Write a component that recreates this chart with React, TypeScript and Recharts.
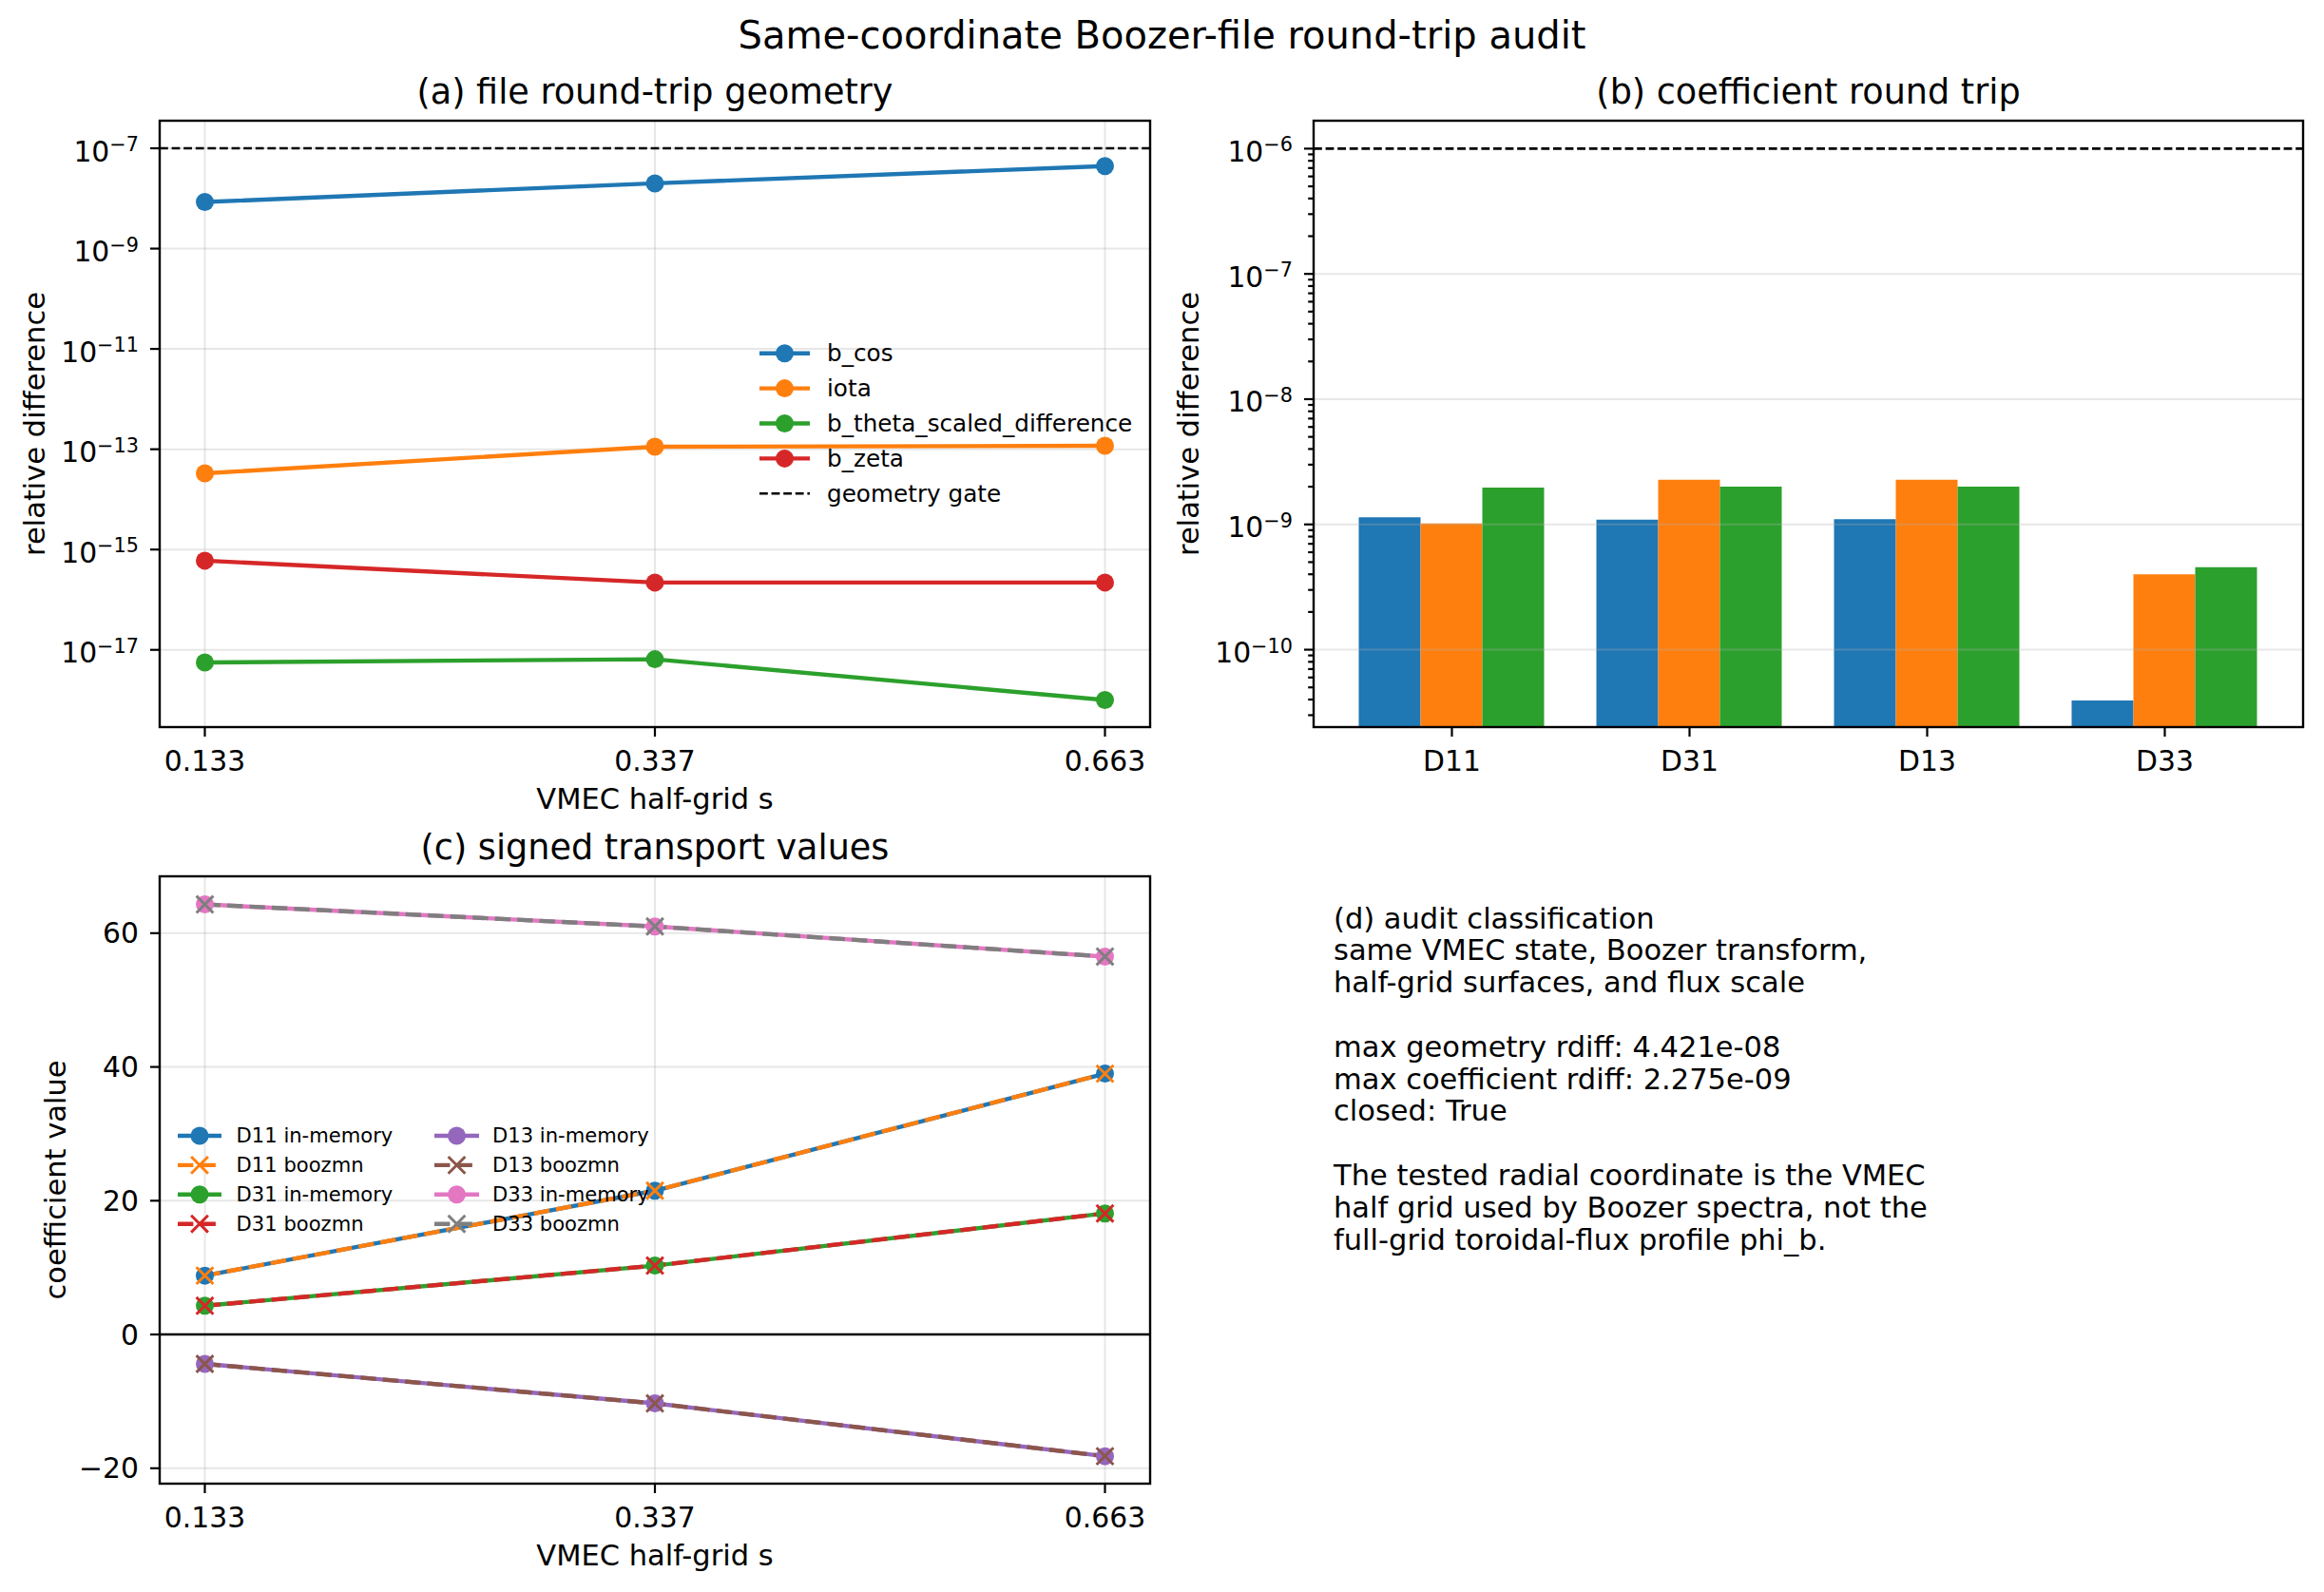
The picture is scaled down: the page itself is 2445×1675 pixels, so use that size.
import React from "react";
import {
  Bar,
  BarChart,
  CartesianGrid,
  Line,
  LineChart,
  ReferenceLine,
  XAxis,
  YAxis,
} from "recharts";

// ---- data ----
const surfaceLabels = ["0.133", "0.337", "0.663"];

const bCos = [8.5e-9, 2.0e-8, 4.421e-8];
const iota = [3.3e-14, 1.12e-13, 1.17e-13];
const bThetaScaled = [5.6e-18, 6.5e-18, 1.0e-18];
const bZeta = [6.0e-16, 2.2e-16, 2.2e-16];
const geometryGate = 1e-7;
const geometryDecades = [-17, -15, -13, -11, -9, -7];

const coefficientNames = ["D11", "D31", "D13", "D33"];
const rdiffInner = [1.14e-9, 1.09e-9, 1.1e-9, 3.93e-11];
const rdiffMiddle = [1.02e-9, 2.275e-9, 2.27e-9, 4.0e-10];
const rdiffOuter = [1.97e-9, 2.0e-9, 2.0e-9, 4.55e-10];
const coefficientGate = 1e-6;
const coefficientDecades = [-10, -9, -8, -7, -6];

const d11Memory = [8.8, 21.5, 39.0];
const d11Boozmn = [8.8, 21.5, 39.0];
const d31Memory = [4.3, 10.3, 18.1];
const d31Boozmn = [4.3, 10.3, 18.1];
const d13Memory = [-4.4, -10.3, -18.2];
const d13Boozmn = [-4.4, -10.3, -18.2];
const d33Memory = [64.3, 61.0, 56.5];
const d33Boozmn = [64.3, 61.0, 56.5];
const transportTicks = [-20, 0, 20, 40, 60];

const auditLines = [
  "(d) audit classification",
  "same VMEC state, Boozer transform,",
  "half-grid surfaces, and flux scale",
  "",
  "max geometry rdiff: 4.421e-08",
  "max coefficient rdiff: 2.275e-09",
  "closed: True",
  "",
  "The tested radial coordinate is the VMEC",
  "half grid used by Boozer spectra, not the",
  "full-grid toroidal-flux profile phi_b.",
];

// ---- look ----
const W = 2445;
const H = 1675;
const FONT = '"DejaVu Sans", Verdana, sans-serif';
const FS = 29.8; // tick labels
const FS_LABEL = 30.5; // axis labels and the text block
const FS_TITLE = 36.6;
const FS_SUPTITLE = 40;
const TICK = 10;
const TICK_MINOR = 5.8;
const PAD = 12;
const XPAD = 14;
const YW = 150;
const XH = 60;
const LW = 4.4;
const SPINE = 2.4;
const GRID = { stroke: "#b0b0b0", strokeOpacity: 0.3, strokeWidth: 2 };
const GATE_DASH = "8.8 3.8";
const BOOZ_DASH = "16.4 7.1";

const C10 = {
  blue: "#1f77b4",
  orange: "#ff7f0e",
  green: "#2ca02c",
  red: "#d62728",
  purple: "#9467bd",
  brown: "#8c564b",
  pink: "#e377c2",
  gray: "#7f7f7f",
};

const boxA = { left: 168, top: 127, right: 1210, bottom: 765 };
const boxB = { left: 1382, top: 127, right: 2423, bottom: 765 };
const boxC = { left: 168, top: 922, right: 1210, bottom: 1561 };

const marginFor = (b: typeof boxA) => ({
  top: b.top,
  left: b.left - YW,
  right: W - b.right,
  bottom: H - b.bottom - XH,
});

const geometrySeries = [
  { key: "bCos", name: "b_cos", color: C10.blue, values: bCos },
  { key: "iota", name: "iota", color: C10.orange, values: iota },
  { key: "bTheta", name: "b_theta_scaled_difference", color: C10.green, values: bThetaScaled },
  { key: "bZeta", name: "b_zeta", color: C10.red, values: bZeta },
];

const barSeries = [
  { key: "inner", color: C10.blue, values: rdiffInner },
  { key: "middle", color: C10.orange, values: rdiffMiddle },
  { key: "outer", color: C10.green, values: rdiffOuter },
];

const transportSeries = [
  { key: "d11m", name: "D11 in-memory", color: C10.blue, values: d11Memory, booz: false },
  { key: "d11b", name: "D11 boozmn", color: C10.orange, values: d11Boozmn, booz: true },
  { key: "d31m", name: "D31 in-memory", color: C10.green, values: d31Memory, booz: false },
  { key: "d31b", name: "D31 boozmn", color: C10.red, values: d31Boozmn, booz: true },
  { key: "d13m", name: "D13 in-memory", color: C10.purple, values: d13Memory, booz: false },
  { key: "d13b", name: "D13 boozmn", color: C10.brown, values: d13Boozmn, booz: true },
  { key: "d33m", name: "D33 in-memory", color: C10.pink, values: d33Memory, booz: false },
  { key: "d33b", name: "D33 boozmn", color: C10.gray, values: d33Boozmn, booz: true },
];

const geometryRows = surfaceLabels.map((s, i) => {
  const row: Record<string, any> = { s };
  geometrySeries.forEach((g) => (row[g.key] = g.values[i]));
  return row;
});

const barRows = coefficientNames.map((name, i) => {
  const row: Record<string, any> = { name };
  barSeries.forEach((b) => (row[b.key] = b.values[i]));
  return row;
});

const transportRows = surfaceLabels.map((s, i) => {
  const row: Record<string, any> = { s };
  transportSeries.forEach((t) => (row[t.key] = t.values[i]));
  return row;
});

const geometryDomain = [Math.pow(10, -18.54), Math.pow(10, -6.45)];
const coefficientDomain = [Math.pow(10, -10.618), Math.pow(10, -5.777)];

// log ticks with minor marks between decades
const coefficientTicks: number[] = [];
for (let e = -11; e <= -6; e++) {
  for (let k = 1; k <= 9; k++) {
    const v = k * Math.pow(10, e);
    if (v >= coefficientDomain[0] && v <= coefficientDomain[1]) coefficientTicks.push(v);
  }
}

// ---- tick renderers ----
const minus = (n: number) => (n < 0 ? "\u2212" + Math.abs(n) : String(n));

function XTick(props: any) {
  const { x, y, payload } = props;
  return (
    <text x={x} y={y + 21.6} textAnchor="middle" fontSize={FS} fontFamily={FONT} fill="#000">
      {payload.value}
    </text>
  );
}

function LogTick(props: any) {
  const { x, y, payload } = props;
  const lg = Math.log10(payload.value);
  const e = Math.round(lg);
  const major = Math.abs(lg - e) < 1e-6;
  const ax = x + PAD + TICK;
  return (
    <g>
      <line
        x1={ax - (major ? TICK : TICK_MINOR)}
        x2={ax}
        y1={y}
        y2={y}
        stroke="#000"
        strokeWidth={2.2}
      />
      {major && (
        <text x={x} y={y + 13.5} textAnchor="end" fontSize={FS} fontFamily={FONT} fill="#000">
          <tspan>10</tspan>
          <tspan dy={-10.5} fontSize={20.8}>
            {minus(e)}
          </tspan>
        </text>
      )}
    </g>
  );
}

function LinTick(props: any) {
  const { x, y, payload } = props;
  return (
    <text x={x} y={y + 10.6} textAnchor="end" fontSize={FS} fontFamily={FONT} fill="#000">
      {minus(payload.value)}
    </text>
  );
}

const crossPath = (cx: number, cy: number, h: number) =>
  `M${cx - h},${cy - h}L${cx + h},${cy + h}M${cx - h},${cy + h}L${cx + h},${cy - h}`;

const crossDot = (color: string) => (props: any) => {
  const { cx, cy, index } = props;
  return (
    <path key={`x-${index}`} d={crossPath(cx, cy, 8.9)} stroke={color} strokeWidth={3} fill="none" />
  );
};

const tickLineStyle = { stroke: "#000", strokeWidth: 2.2 };

// ---- legends & annotations ----
function GeometryLegend() {
  const x0 = 799;
  const x1 = 852;
  const mx = 825.5;
  const tx = 870;
  const items = [
    ...geometrySeries.map((g) => ({ label: g.name, color: g.color, gate: false })),
    { label: "geometry gate", color: "#000", gate: true },
  ];
  return (
    <g>
      {items.map((it, i) => {
        const y = 371.7 + i * 36.9;
        return (
          <g key={it.label}>
            <line
              x1={x0}
              x2={x1}
              y1={y}
              y2={y}
              stroke={it.color}
              strokeWidth={it.gate ? 2.6 : LW}
              strokeDasharray={it.gate ? GATE_DASH : undefined}
            />
            {!it.gate && <circle cx={mx} cy={y} r={9.5} fill={it.color} />}
            <text x={tx} y={y + 8.3} fontSize={24.7} fontFamily={FONT} fill="#000">
              {it.label}
            </text>
          </g>
        );
      })}
    </g>
  );
}

function TransportLegend() {
  const cols = [
    { x0: 187, x1: 233, mx: 210, tx: 248.6 },
    { x0: 457, x1: 504, mx: 480.5, tx: 518 },
  ];
  return (
    <g>
      {transportSeries.map((t, i) => {
        const c = cols[Math.floor(i / 4)];
        const y = 1195 + (i % 4) * 30.9;
        return (
          <g key={t.key}>
            <line
              x1={c.x0}
              x2={c.x1}
              y1={y}
              y2={y}
              stroke={t.color}
              strokeWidth={LW}
              strokeDasharray={t.booz ? BOOZ_DASH : undefined}
            />
            {t.booz ? (
              <path d={crossPath(c.mx, y, 8.9)} stroke={t.color} strokeWidth={3} fill="none" />
            ) : (
              <circle cx={c.mx} cy={y} r={9.5} fill={t.color} />
            )}
            <text x={c.tx} y={y + 7.2} fontSize={21.1} fontFamily={FONT} fill="#000">
              {t.name}
            </text>
          </g>
        );
      })}
    </g>
  );
}

function Frame({ b }: { b: typeof boxA }) {
  return (
    <rect
      x={b.left}
      y={b.top}
      width={b.right - b.left}
      height={b.bottom - b.top}
      fill="none"
      stroke="#000"
      strokeWidth={SPINE}
    />
  );
}

function Annotations() {
  const cxA = (boxA.left + boxA.right) / 2;
  const cxB = (boxB.left + boxB.right) / 2;
  const cyAB = (boxA.top + boxA.bottom) / 2;
  const cyC = (boxC.top + boxC.bottom) / 2;
  const title = { fontSize: FS_TITLE, fontFamily: FONT, fill: "#000", textAnchor: "middle" as const };
  const label = { fontSize: FS_LABEL, fontFamily: FONT, fill: "#000", textAnchor: "middle" as const };
  return (
    <svg
      width={W}
      height={H}
      style={{ position: "absolute", left: 0, top: 0, pointerEvents: "none" }}
    >
      <text x={W / 2} y={51} {...title} fontSize={FS_SUPTITLE}>
        Same-coordinate Boozer-file round-trip audit
      </text>
      <text x={cxA} y={boxA.top - 18} {...title}>
        (a) file round-trip geometry
      </text>
      <text x={cxB} y={boxB.top - 18} {...title}>
        (b) coefficient round trip
      </text>
      <text x={cxA} y={boxC.top - 18} {...title}>
        (c) signed transport values
      </text>

      <text x={cxA} y={851} {...label}>
        VMEC half-grid s
      </text>
      <text x={cxA} y={1647} {...label}>
        VMEC half-grid s
      </text>
      <text x={46.5} y={cyAB} transform={`rotate(-90 46.5 ${cyAB})`} {...label}>
        relative difference
      </text>
      <text x={1261} y={cyAB} transform={`rotate(-90 1261 ${cyAB})`} {...label}>
        relative difference
      </text>
      <text x={68.5} y={cyC} transform={`rotate(-90 68.5 ${cyC})`} {...label}>
        coefficient value
      </text>

      <GeometryLegend />
      <TransportLegend />

      {auditLines.map((line, i) => (
        <text key={i} x={1403} y={976.5 + i * 33.8} fontSize={FS_LABEL} fontFamily={FONT} fill="#000">
          {line}
        </text>
      ))}

      <Frame b={boxA} />
      <Frame b={boxB} />
      <Frame b={boxC} />
    </svg>
  );
}

// ---- panels ----
function GeometryPanel() {
  return (
    <LineChart width={W} height={H} data={geometryRows} margin={marginFor(boxA)}>
      <CartesianGrid {...GRID} strokeDasharray="" />
      <XAxis
        dataKey="s"
        type="category"
        padding={{ left: 47.5, right: 47.5 }}
        height={XH}
        axisLine={false}
        tickLine={tickLineStyle}
        tickSize={TICK}
        tickMargin={XPAD}
        interval={0}
        tick={XTick}
      />
      <YAxis
        scale="log"
        type="number"
        domain={geometryDomain}
        allowDataOverflow
        ticks={geometryDecades.map((e) => Math.pow(10, e))}
        interval={0}
        width={YW}
        axisLine={false}
        tickLine={false}
        tickSize={TICK}
        tickMargin={PAD}
        tick={LogTick}
      />
      <ReferenceLine y={geometryGate} stroke="#000" strokeWidth={2.6} strokeDasharray={GATE_DASH} />
      {geometrySeries.map((g) => (
        <Line
          key={g.key}
          dataKey={g.key}
          stroke={g.color}
          strokeWidth={LW}
          dot={{ r: 9.5, fill: g.color, stroke: g.color, strokeWidth: 0 }}
          activeDot={false}
          isAnimationActive={false}
        />
      ))}
    </LineChart>
  );
}

function CoefficientPanel() {
  return (
    <BarChart
      width={W}
      height={H}
      data={barRows}
      margin={marginFor(boxB)}
      barCategoryGap={27}
      barGap={0}
    >
      <XAxis
        dataKey="name"
        type="category"
        padding={{ left: 20.5, right: 20.5 }}
        height={XH}
        axisLine={false}
        tickLine={tickLineStyle}
        tickSize={TICK}
        tickMargin={XPAD}
        interval={0}
        tick={XTick}
      />
      <YAxis
        scale="log"
        type="number"
        domain={coefficientDomain}
        allowDataOverflow
        ticks={coefficientTicks}
        interval={0}
        width={YW}
        axisLine={false}
        tickLine={false}
        tickSize={TICK}
        tickMargin={PAD}
        tick={LogTick}
      />
      {barSeries.map((b) => (
        <Bar key={b.key} dataKey={b.key} fill={b.color} isAnimationActive={false} />
      ))}
      {coefficientDecades.slice(0, -1).map((e) => (
        <ReferenceLine key={e} y={Math.pow(10, e)} {...GRID} />
      ))}
      <ReferenceLine y={coefficientGate} stroke="#000" strokeWidth={2.6} strokeDasharray={GATE_DASH} />
    </BarChart>
  );
}

function TransportPanel() {
  return (
    <LineChart width={W} height={H} data={transportRows} margin={marginFor(boxC)}>
      <CartesianGrid {...GRID} strokeDasharray="" />
      <XAxis
        dataKey="s"
        type="category"
        padding={{ left: 47.5, right: 47.5 }}
        height={XH}
        axisLine={false}
        tickLine={tickLineStyle}
        tickSize={TICK}
        tickMargin={XPAD}
        interval={0}
        tick={XTick}
      />
      <YAxis
        type="number"
        domain={[-22.3, 68.5]}
        allowDataOverflow
        ticks={transportTicks}
        interval={0}
        width={YW}
        axisLine={false}
        tickLine={tickLineStyle}
        tickSize={TICK}
        tickMargin={PAD}
        tick={LinTick}
      />
      <ReferenceLine y={0} stroke="#000" strokeWidth={SPINE} />
      {transportSeries.map((t) => (
        <Line
          key={t.key}
          dataKey={t.key}
          stroke={t.color}
          strokeWidth={LW}
          strokeDasharray={t.booz ? BOOZ_DASH : undefined}
          dot={t.booz ? crossDot(t.color) : { r: 9.5, fill: t.color, stroke: t.color, strokeWidth: 0 }}
          activeDot={false}
          isAnimationActive={false}
        />
      ))}
    </LineChart>
  );
}

const layer: React.CSSProperties = { position: "absolute", left: 0, top: 0 };

export default function App() {
  return (
    <div
      style={{
        position: "absolute",
        left: 0,
        top: 0,
        width: W,
        height: H,
        background: "#fff",
        fontFamily: FONT,
      }}
    >
      <div style={layer}>
        <GeometryPanel />
      </div>
      <div style={layer}>
        <CoefficientPanel />
      </div>
      <div style={layer}>
        <TransportPanel />
      </div>
      <Annotations />
    </div>
  );
}
